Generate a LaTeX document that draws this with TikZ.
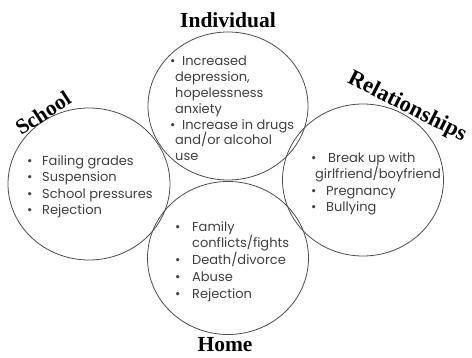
\documentclass[tikz,border=0pt]{standalone}
\usepackage{fontspec}
\setmainfont{Liberation Serif}
\newfontfamily\bodyfont{Poppins}
\usetikzlibrary{shapes.geometric}
\definecolor{ink}{HTML}{404040}
\definecolor{rim}{HTML}{4D4D4D}
\tikzset{
  ring/.style={ellipse, draw=rim, line width=0.8pt, inner sep=0pt},
  head/.style={font=\fontsize{21.5}{21.5}\selectfont\bfseries, text=black, inner sep=0pt},
  list/.style={font=\bodyfont\fontsize{13}{16.6}\selectfont, text=ink, align=left, anchor=north west, inner sep=0pt},
}
\newcommand{\bul}[1]{\makebox[#1][l]{\textbullet}}

\begin{document}
\begin{tikzpicture}[x=1pt,y=-1pt]
  \useasboundingbox (0,0) rectangle (472,358);
  % the four circles
  \node[ring, minimum width=160pt, minimum height=148pt] (indiv) at (228,106) {};
  \node[ring, minimum width=162pt, minimum height=152pt] (school) at (89,184) {};
  \node[ring, minimum width=161pt, minimum height=152pt] (rel) at (363,180) {};
  \node[ring, minimum width=161pt, minimum height=153pt] (home) at (228,258) {};
  % headings
  \node[head] (indivhead) at (228,20) {Individual};
  \node[head] (homehead) at (225,345) {Home};
  \node[head, rotate=33] (schoolhead) at (43,113) {School};
  \node[head, font=\fontsize{22.5}{22.5}\selectfont\bfseries, rotate=-27] (relhead) at (407,107) {Relationships};
  % lists
  \node[list, font=\bodyfont\fontsize{13}{15.8}\selectfont] (indivlist) at (170,56)
    {\bul{12pt}Increased\\\hspace{5pt}depression,\\\hspace{5pt}hopelessness\\\hspace{5pt}anxiety\\
     \bul{12pt}Increase in drugs\\\hspace{5pt}and/or alcohol\\\hspace{5pt}use};
  \node[list] (schoollist) at (27,155)
    {\bul{15pt}Failing grades\\\bul{15pt}Suspension\\\bul{15pt}School pressures\\\bul{15pt}Rejection};
  \node[list] (rellist) at (311,152)
    {\bul{17pt}Break up with\\\hspace{4pt}girlfriend/boyfriend\\\bul{15pt}Pregnancy\\\bul{15pt}Bullying};
  \node[list, font=\bodyfont\fontsize{13}{16.8}\selectfont] (homelist) at (175,221)
    {\bul{17pt}Family\\\hspace{17pt}conflicts/fights\\\bul{17pt}Death/divorce\\\bul{17pt}Abuse\\\bul{17pt}Rejection};
\end{tikzpicture}
\end{document}
